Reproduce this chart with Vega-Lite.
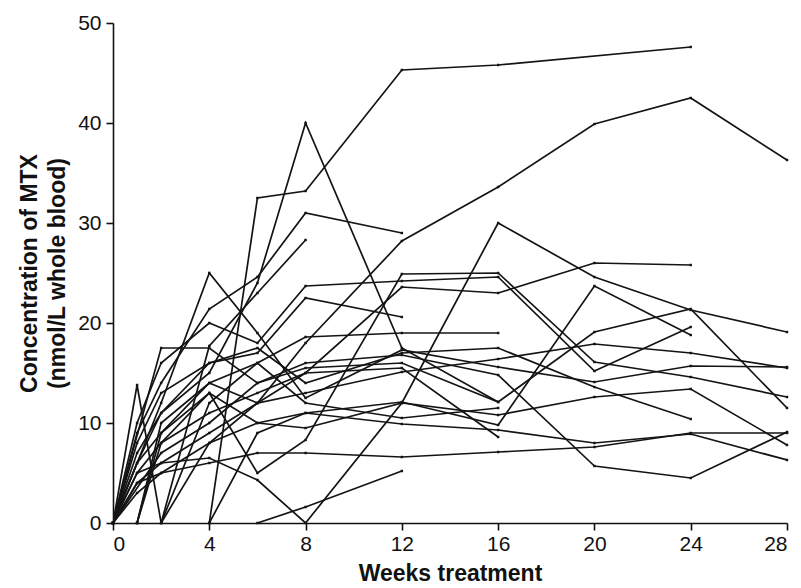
{
  "$schema": "https://vega.github.io/schema/vega-lite/v6.json",
  "width": 674,
  "height": 500,
  "autosize": {"type": "none"},
  "padding": {"left": 113, "top": 23, "right": 14, "bottom": 65},
  "background": "white",
  "config": {
    "view": {"stroke": null},
    "font": "Liberation Sans",
    "axis": {"grid": false, "domainColor": "#111", "tickColor": "#111", "domainWidth": 1.6, "tickWidth": 1.6, "labelColor": "#111", "titleColor": "#111", "labelFont": "Liberation Sans", "titleFont": "Liberation Sans"}
  },
  "data": {"values": [
    {"id":"A","w":4,"c":0},{"id":"A","w":6,"c":32.5},{"id":"A","w":8,"c":33.2},{"id":"A","w":12,"c":45.3},{"id":"A","w":16,"c":45.8},{"id":"A","w":24,"c":47.6},
    {"id":"B","w":0,"c":0},{"id":"B","w":1,"c":6},{"id":"B","w":2,"c":11},{"id":"B","w":4,"c":15},{"id":"B","w":6,"c":24},{"id":"B","w":8,"c":40},{"id":"B","w":12,"c":17.5},{"id":"B","w":16,"c":12.1},
    {"id":"C","w":0,"c":0},{"id":"C","w":1,"c":4},{"id":"C","w":2,"c":6},{"id":"C","w":4,"c":9},{"id":"C","w":6,"c":12},{"id":"C","w":8,"c":18},{"id":"C","w":12,"c":28.2},{"id":"C","w":16,"c":33.6},{"id":"C","w":20,"c":39.9},{"id":"C","w":24,"c":42.5},{"id":"C","w":28,"c":36.3},
    {"id":"D","w":0,"c":0},{"id":"D","w":1,"c":9},{"id":"D","w":2,"c":14},{"id":"D","w":4,"c":21.4},{"id":"D","w":6,"c":24.6},{"id":"D","w":8,"c":31},{"id":"D","w":12,"c":29},
    {"id":"E","w":2,"c":0},{"id":"E","w":4,"c":17.7},{"id":"E","w":6,"c":23},{"id":"E","w":8,"c":28.3},
    {"id":"F","w":0,"c":0},{"id":"F","w":2,"c":12},{"id":"F","w":4,"c":25},{"id":"F","w":6,"c":19},{"id":"F","w":8,"c":12.5},{"id":"F","w":12,"c":17.3},{"id":"F","w":16,"c":15.6},{"id":"F","w":20,"c":14.1},{"id":"F","w":24,"c":15.7},{"id":"F","w":28,"c":15.6},
    {"id":"G","w":0,"c":0},{"id":"G","w":1,"c":6},{"id":"G","w":2,"c":9},{"id":"G","w":4,"c":13},{"id":"G","w":6,"c":10},{"id":"G","w":8,"c":9.5},{"id":"G","w":12,"c":12},{"id":"G","w":16,"c":30},{"id":"G","w":20,"c":24.6},{"id":"G","w":24,"c":21.3},{"id":"G","w":28,"c":19.1},
    {"id":"H","w":0,"c":0},{"id":"H","w":2,"c":7},{"id":"H","w":4,"c":10},{"id":"H","w":6,"c":14},{"id":"H","w":8,"c":15.5},{"id":"H","w":12,"c":16},{"id":"H","w":16,"c":12.1},{"id":"H","w":20,"c":19.1},{"id":"H","w":24,"c":21.4},{"id":"H","w":28,"c":11.5},
    {"id":"I","w":0,"c":0},{"id":"I","w":1,"c":3},{"id":"I","w":2,"c":5},{"id":"I","w":4,"c":8},{"id":"I","w":6,"c":10},{"id":"I","w":8,"c":11},{"id":"I","w":12,"c":12.1},{"id":"I","w":16,"c":9.8},{"id":"I","w":20,"c":23.7},{"id":"I","w":24,"c":18.8},
    {"id":"J","w":1,"c":0},{"id":"J","w":2,"c":8},{"id":"J","w":4,"c":13},{"id":"J","w":6,"c":5},{"id":"J","w":8,"c":8.3},{"id":"J","w":12,"c":24.9},{"id":"J","w":16,"c":25},{"id":"J","w":20,"c":16.1},{"id":"J","w":24,"c":14.6},{"id":"J","w":28,"c":12.6},
    {"id":"K","w":0,"c":0},{"id":"K","w":1,"c":10},{"id":"K","w":2,"c":16},{"id":"K","w":4,"c":20},{"id":"K","w":6,"c":18},{"id":"K","w":8,"c":23.7},{"id":"K","w":12,"c":24.2},{"id":"K","w":16,"c":24.6},{"id":"K","w":20,"c":15.2},{"id":"K","w":24,"c":19.6},
    {"id":"L","w":0,"c":0},{"id":"L","w":1,"c":8},{"id":"L","w":2,"c":13},{"id":"L","w":4,"c":16},{"id":"L","w":6,"c":17},{"id":"L","w":8,"c":22.5},{"id":"L","w":12,"c":20.6},
    {"id":"M","w":2,"c":0},{"id":"M","w":4,"c":12},{"id":"M","w":6,"c":16},{"id":"M","w":8,"c":18.6},{"id":"M","w":12,"c":19},{"id":"M","w":16,"c":19},
    {"id":"N","w":0,"c":0},{"id":"N","w":1,"c":5},{"id":"N","w":2,"c":8},{"id":"N","w":4,"c":11},{"id":"N","w":6,"c":13},{"id":"N","w":8,"c":15},{"id":"N","w":12,"c":23.6},{"id":"N","w":16,"c":23},{"id":"N","w":20,"c":26},{"id":"N","w":24,"c":25.8},
    {"id":"O","w":1,"c":0},{"id":"O","w":2,"c":9},{"id":"O","w":4,"c":14},{"id":"O","w":6,"c":12},{"id":"O","w":8,"c":13},{"id":"O","w":12,"c":15.1},{"id":"O","w":16,"c":16.4},{"id":"O","w":20,"c":17.9},{"id":"O","w":24,"c":17},{"id":"O","w":28,"c":15.5},
    {"id":"P","w":0,"c":0},{"id":"P","w":1,"c":7},{"id":"P","w":2,"c":11},{"id":"P","w":4,"c":16},{"id":"P","w":6,"c":17.5},{"id":"P","w":8,"c":14},{"id":"P","w":12,"c":17},{"id":"P","w":16,"c":17.5},{"id":"P","w":20,"c":13.6},{"id":"P","w":24,"c":10.4},
    {"id":"Q","w":0,"c":0},{"id":"Q","w":1,"c":4},{"id":"Q","w":2,"c":5},{"id":"Q","w":4,"c":6},{"id":"Q","w":6,"c":7},{"id":"Q","w":8,"c":7},{"id":"Q","w":12,"c":6.6},{"id":"Q","w":16,"c":7.1},{"id":"Q","w":20,"c":7.6},{"id":"Q","w":24,"c":9},{"id":"Q","w":28,"c":9},
    {"id":"R","w":0,"c":0},{"id":"R","w":2,"c":17.5},{"id":"R","w":4,"c":17.5},{"id":"R","w":6,"c":14},{"id":"R","w":8,"c":16},{"id":"R","w":12,"c":16.8},{"id":"R","w":16,"c":14.8},{"id":"R","w":20,"c":5.7},{"id":"R","w":24,"c":4.5},{"id":"R","w":28,"c":9.1},
    {"id":"S","w":6,"c":0},{"id":"S","w":8,"c":1.6},{"id":"S","w":12,"c":5.2},
    {"id":"T","w":0,"c":0},{"id":"T","w":1,"c":5},{"id":"T","w":2,"c":6},{"id":"T","w":4,"c":6.5},{"id":"T","w":6,"c":4.3},{"id":"T","w":8,"c":0},{"id":"T","w":12,"c":12},{"id":"T","w":16,"c":10.8},{"id":"T","w":20,"c":12.6},{"id":"T","w":24,"c":13.4},{"id":"T","w":28,"c":7.8},
    {"id":"V","w":4,"c":0},{"id":"V","w":6,"c":9},{"id":"V","w":8,"c":11},{"id":"V","w":12,"c":9.9},{"id":"V","w":16,"c":9.3},{"id":"V","w":20,"c":8},{"id":"V","w":24,"c":8.9},{"id":"V","w":28,"c":6.3},
    {"id":"X","w":1,"c":0},{"id":"X","w":2,"c":10},{"id":"X","w":4,"c":14},{"id":"X","w":6,"c":16},{"id":"X","w":8,"c":12},{"id":"X","w":12,"c":10.5},{"id":"X","w":16,"c":11.5},
    {"id":"Z","w":0,"c":0},{"id":"Z","w":1,"c":13.8},{"id":"Z","w":2,"c":0},{"id":"Z","w":4,"c":8},{"id":"Z","w":6,"c":12},{"id":"Z","w":8,"c":15},{"id":"Z","w":12,"c":15.5},{"id":"Z","w":16,"c":8.6}
  ]},
  "encoding": {
    "x": {"field": "w", "type": "quantitative", "scale": {"domain": [0, 28], "nice": false},
      "axis": {"values": [0,4,8,12,16,20,24,28], "title": "Weeks treatment", "titleFontSize": 23, "titleFontWeight": "bold", "labelFontSize": 21, "tickSize": 7, "labelPadding": 3, "titlePadding": 8}},
    "y": {"field": "c", "type": "quantitative", "scale": {"domain": [0, 50], "nice": false},
      "axis": {"values": [0,10,20,30,40,50], "title": ["Concentration of MTX", "(nmol/L whole blood)"], "titleFontSize": 23, "titleFontWeight": "bold", "labelFontSize": 21, "tickSize": 7, "labelPadding": 5, "titlePadding": 8, "titleLineHeight": 28}}
  },
  "layer": [
    {"mark": {"type": "line", "color": "#141414", "strokeWidth": 1.7, "clip": true},
     "encoding": {"detail": {"field": "id"}, "order": {"field": "w"}}},
    {"mark": {"type": "point", "shape": "square", "filled": true, "color": "#141414", "size": 6, "opacity": 1},
     "encoding": {}}
  ]
}
